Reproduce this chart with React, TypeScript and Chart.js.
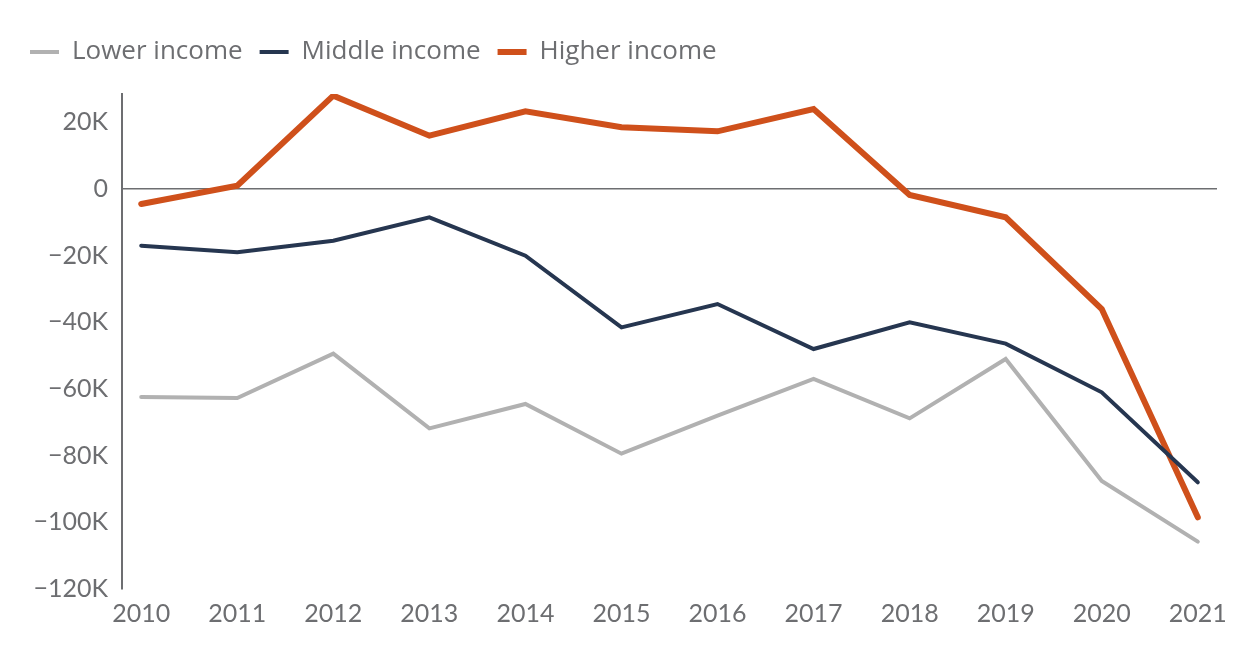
import React, { useEffect, useRef } from "react";
import { Chart, registerables } from "chart.js";

Chart.register(...registerables);

const years = [2010, 2011, 2012, 2013, 2014, 2015, 2016, 2017, 2018, 2019, 2020, 2021];
const lowerIncome = [-62.4, -62.7, -49.4, -71.8, -64.5, -79.4, -68.0, -57.0, -68.8, -51.0, -87.6, -105.8];
const middleIncome = [-17.0, -19.0, -15.5, -8.5, -20.0, -41.5, -34.5, -48.0, -40.0, -46.4, -61.0, -88.0];
const higherIncome = [-4.5, 1.0, 28.0, 16.0, 23.3, 18.5, 17.3, 24.0, -1.8, -8.5, -36.0, -98.5];
const seriesNames = ["Lower income", "Middle income", "Higher income"];
const yTickValues = [20000, 0, -20000, -40000, -60000, -80000, -100000, -120000];

const TEXT = "#6d6e71";
const FONT = "Lato, 'Open Sans', sans-serif";
const LEGEND_FONT = "'Open Sans', Lato, sans-serif";

const legendSpacer = {
  id: "legendSpacer",
  beforeLayout(chart: any) {
    const lg = chart.legend;
    if (lg && !lg._patched) {
      const orig = lg.fit;
      lg.fit = function () {
        orig.call(this);
        this.height += 19;
      };
      lg._patched = true;
    }
  },
};

export default function App() {
  const ref = useRef<HTMLCanvasElement | null>(null);

  useEffect(() => {
    document.body.style.margin = "0";
    const canvas = ref.current;
    if (!canvas) return;
    const toPts = (arr: number[]) => years.map((y, i) => ({ x: y, y: arr[i] * 1000 }));
    const chart = new Chart(canvas, {
      type: "line",
      data: {
        datasets: [
          {
            label: seriesNames[0],
            data: toPts(lowerIncome),
            borderColor: "#b1b1b1",
            backgroundColor: "#b1b1b1",
            borderWidth: 4,
            borderCapStyle: "round",
            pointRadius: 0,
            tension: 0,
          },
          {
            label: seriesNames[1],
            data: toPts(middleIncome),
            borderColor: "#263650",
            backgroundColor: "#263650",
            borderWidth: 4,
            borderCapStyle: "round",
            pointRadius: 0,
            tension: 0,
          },
          {
            label: seriesNames[2],
            data: toPts(higherIncome),
            borderColor: "#cf501b",
            backgroundColor: "#cf501b",
            borderWidth: 6,
            borderCapStyle: "round",
            pointRadius: 0,
            tension: 0,
          },
        ],
      },
      plugins: [legendSpacer],
      options: {
        animation: false,
        responsive: false,
        maintainAspectRatio: false,
        layout: { padding: { left: 13, right: 43, top: 22, bottom: 21 } },
        plugins: {
          tooltip: { enabled: false },
          legend: {
            position: "top",
            align: "start",
            labels: {
              usePointStyle: true,
              pointStyle: "line",
              pointStyleWidth: 29,
              color: TEXT,
              padding: 17,
              font: { family: LEGEND_FONT, size: 26 },
            },
          },
        },
        scales: {
          x: {
            type: "linear",
            min: 2009.8,
            max: 2021.2,
            afterBuildTicks: (scale: any) => {
              scale.ticks = years.map((v) => ({ value: v }));
            },
            ticks: {
              color: TEXT,
              font: { family: FONT, size: 25 },
              padding: 10,
              maxRotation: 0,
              autoSkip: false,
              callback: (v: any) => String(v),
            },
            grid: { display: false, drawTicks: false },
            border: { display: false },
          },
          y: {
            type: "linear",
            min: -120000,
            max: 28500,
            afterBuildTicks: (scale: any) => {
              scale.ticks = yTickValues.map((v) => ({ value: v }));
            },
            afterFit: (scale: any) => {
              scale.width = 109;
            },
            ticks: {
              color: TEXT,
              font: { family: FONT, size: 25 },
              padding: 14,
              autoSkip: false,
              callback: (v: any) =>
                v === 0 ? "0" : (v < 0 ? "\u2212" : "") + Math.abs(v / 1000) + "K",
            },
            grid: {
              drawTicks: false,
              lineWidth: 1.5,
              color: (ctx: any) => (ctx.tick && ctx.tick.value === 0 ? "#6d6e71" : "rgba(0,0,0,0)"),
            },
            border: { display: true, color: "#6d6e71", width: 2 },
          },
        },
      },
    });
    return () => chart.destroy();
  }, []);

  return (
    <div style={{ width: 1260, height: 660 }}>
      <canvas ref={ref} width={1260} height={660} style={{ display: "block", width: 1260, height: 660 }} />
    </div>
  );
}
